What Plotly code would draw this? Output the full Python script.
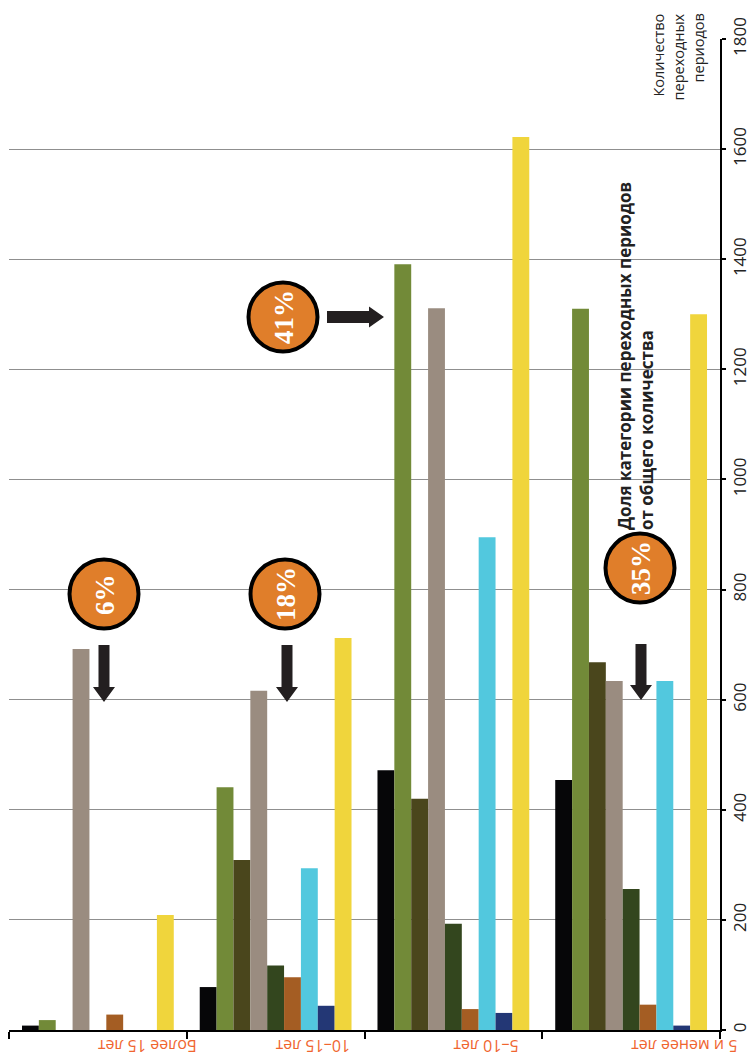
import plotly.graph_objects as go

# ---------------- data ----------------
categories = ["Более 15 лет", "10–15 лет", "5–10 лет", "5 и менее лет"]

series_names = ["Серия 1", "Серия 2", "Серия 3", "Серия 4", "Серия 5",
                "Серия 6", "Серия 7", "Серия 8", "Серия 9"]
s1 = [8, 78, 472, 454]
s2 = [18, 441, 1391, 1310]
s3 = [0, 309, 420, 668]
s4 = [692, 616, 1311, 634]
s5 = [0, 117, 193, 256]
s6 = [28, 96, 38, 46]
s7 = [0, 294, 895, 634]
s8 = [0, 44, 31, 8]
s9 = [209, 712, 1622, 1300]
series_values = [s1, s2, s3, s4, s5, s6, s7, s8, s9]

colors = ["#060608", "#728a38", "#4a461c", "#9a8c80", "#33461e",
          "#a45d23", "#52c8de", "#233775", "#f0d53c"]

y_ticks = [0, 200, 400, 600, 800, 1000, 1200, 1400, 1600, 1800]

share_labels = ["6%", "18%", "41%", "35%"]

# ---------------- figure ----------------
W, H = 748, 1064
# plot area in page pixels: x 9..720, y 39..1030
PX0, PX1, PY0, PY1 = 9, 720, 39, 1030
ML, MT = PX0, PY0
MR, MB = W - PX1, H - PY1
PW = PX1 - PX0
PH = PY1 - PY0


def X(px):
    return (px - PX0) / PW


def Y(py):
    return (PY1 - py) / PH


fig = go.Figure()
for name, vals, col in zip(series_names, series_values, colors):
    fig.add_trace(go.Bar(x=categories, y=vals, name=name,
                         marker=dict(color=col, line=dict(width=0))))

fig.update_layout(
    width=W, height=H,
    margin=dict(l=ML, r=MR, t=MT, b=MB, pad=0, autoexpand=False),
    barmode="group", bargap=0.146, bargroupgap=0,
    plot_bgcolor="white", paper_bgcolor="white",
    showlegend=False,
    font=dict(family="Open Sans", color="#222"),
)

fig.update_xaxes(
    type="category", categoryorder="array", categoryarray=categories,
    range=[-0.5, 3.5], automargin=False,
    showline=True, linecolor="black", linewidth=2,
    ticks="outside", tickson="boundaries", ticklen=7, tickwidth=2,
    tickcolor="black",
    tickangle=180, ticklabelstandoff=5,
    tickfont=dict(family="Open Sans", size=16, color="#f0652f"),
    showgrid=False,
)

fig.update_yaxes(
    side="right", range=[0, 1800], automargin=False,
    tickvals=y_ticks, ticktext=[str(v) for v in y_ticks],
    tickangle=-90,
    tickfont=dict(family="Open Sans", size=17, color="#222"),
    showline=True, linecolor="black", linewidth=2,
    ticks="outside", ticklen=4, tickwidth=2, tickcolor="black",
    showgrid=True, gridcolor="#8f8f8f", gridwidth=1,
    zeroline=False,
)

# ---------------- decorations ----------------
shapes = []
annotations = []

circles = [(104, 594), (285, 594), (283, 317), (640, 568)]
R = 34.5
for (cx, cy), lab in zip(circles, share_labels):
    shapes.append(dict(type="circle", xref="paper", yref="paper",
                       x0=X(cx - R), x1=X(cx + R), y0=Y(cy + R), y1=Y(cy - R),
                       fillcolor="#e07e2a", line=dict(color="black", width=4),
                       layer="above"))
    annotations.append(dict(xref="paper", yref="paper", x=X(cx + 1), y=Y(cy),
                            text="<b>%s</b>" % lab, showarrow=False,
                            textangle=-90, xanchor="center", yanchor="middle",
                            font=dict(family="Liberation Serif", size=27,
                                      color="white")))


def down_arrow(cx, top, tip):
    sw, hw, hl = 5.5, 11, 15
    pts = [(cx - sw, top), (cx + sw, top), (cx + sw, tip - hl),
           (cx + hw, tip - hl), (cx, tip), (cx - hw, tip - hl),
           (cx - sw, tip - hl)]
    return "M " + " L ".join("%f,%f" % (X(a), Y(b)) for a, b in pts) + " Z"


def right_arrow(cy, left, tip):
    sw, hw, hl = 6, 10.5, 15
    pts = [(left, cy - sw), (tip - hl, cy - sw), (tip - hl, cy - hw),
           (tip, cy), (tip - hl, cy + hw), (tip - hl, cy + sw), (left, cy + sw)]
    return "M " + " L ".join("%f,%f" % (X(a), Y(b)) for a, b in pts) + " Z"


for path in [down_arrow(104, 645, 702), down_arrow(287, 645, 702),
             down_arrow(641, 644, 700), right_arrow(317, 327, 384)]:
    shapes.append(dict(type="path", xref="paper", yref="paper", path=path,
                       fillcolor="#231f20", line=dict(width=0), layer="above"))

# axis title (top right)
for txt, px in [("Количество", 658), ("переходных", 678), ("периодов", 698)]:
    annotations.append(dict(xref="paper", yref="paper", x=X(px), y=Y(12),
                            text=txt, showarrow=False, textangle=-90,
                            xanchor="center", yanchor="top",
                            font=dict(family="Open Sans", size=14.5,
                                      color="#222")))

# note
for txt, px in [("Доля категории переходных периодов", 624),
                ("от общего количества", 646)]:
    annotations.append(dict(xref="paper", yref="paper", x=X(px), y=Y(532),
                            text="<b>%s</b>" % txt, showarrow=False,
                            textangle=-90, xanchor="center", yanchor="bottom",
                            font=dict(family="Open Sans", size=17,
                                      color="#222")))

fig.update_layout(shapes=shapes, annotations=annotations)

fig.write_html(
    "out.html",
    config={"displayModeBar": False},
    post_script="document.body.style.margin='0';"
                "document.body.style.overflow='hidden';",
)
